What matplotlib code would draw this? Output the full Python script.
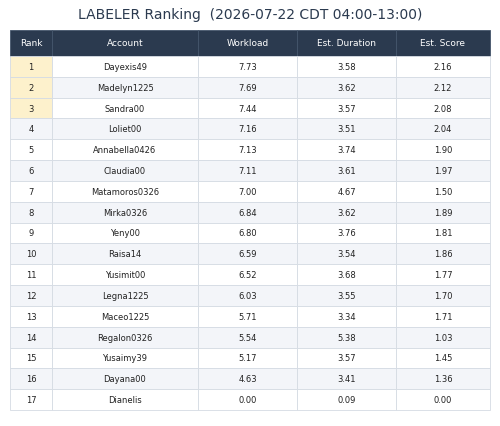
import matplotlib.pyplot as plt
from matplotlib.patches import Rectangle

ranks = list(range(1, 18))
accounts = ["Dayexis49", "Madelyn1225", "Sandra00", "Loliet00", "Annabella0426", "Claudia00",
            "Matamoros0326", "Mirka0326", "Yeny00", "Raisa14", "Yusimit00", "Legna1225",
            "Maceo1225", "Regalon0326", "Yusaimy39", "Dayana00", "Dianelis"]
workload = [7.73, 7.69, 7.44, 7.16, 7.13, 7.11, 7.00, 6.84, 6.80, 6.59, 6.52, 6.03, 5.71, 5.54, 5.17, 4.63, 0.00]
duration = [3.58, 3.62, 3.57, 3.51, 3.74, 3.61, 4.67, 3.62, 3.76, 3.54, 3.68, 3.55, 3.34, 5.38, 3.57, 3.41, 0.09]
score = [2.16, 2.12, 2.08, 2.04, 1.90, 1.97, 1.50, 1.89, 1.81, 1.86, 1.77, 1.70, 1.71, 1.03, 1.45, 1.36, 0.00]
headers = ["Rank", "Account", "Workload", "Est. Duration", "Est. Score"]

W, H = 500, 427
fig = plt.figure(figsize=(W / 100, H / 100), dpi=100)
ax = fig.add_axes([0, 0, 1, 1])
ax.set_xlim(0, W)
ax.set_ylim(H, 0)
ax.axis('off')

cols = [10, 52, 198, 297, 396, 490]
top, head_h = 31, 26
row_h = (411 - (top + head_h)) / len(ranks)
grid = '#d5dbe3'

ax.text(W / 2, 15, "LABELER Ranking  (2026-07-22 CDT 04:00-13:00)", ha='center', va='center',
        fontsize=10, color='#2b3a4f')

for j, h in enumerate(headers):
    ax.add_patch(Rectangle((cols[j], top), cols[j + 1] - cols[j], head_h, fc='#2b3a4f', ec='#44556b', lw=0.6))
    ax.text((cols[j] + cols[j + 1]) / 2, top + head_h / 2, h, ha='center', va='center', fontsize=6.5, color='white')

for i in range(len(ranks)):
    y = top + head_h + i * row_h
    vals = [str(ranks[i]), accounts[i], f"{workload[i]:.2f}", f"{duration[i]:.2f}", f"{score[i]:.2f}"]
    bg = '#ffffff' if i % 2 == 0 else '#f3f5f9'
    for j, v in enumerate(vals):
        fc = '#fdf1cc' if (j == 0 and i < 3) else bg
        ax.add_patch(Rectangle((cols[j], y), cols[j + 1] - cols[j], row_h, fc=fc, ec=grid, lw=0.6))
        ax.text((cols[j] + cols[j + 1]) / 2, y + row_h / 2, v, ha='center', va='center', fontsize=6, color='#222222')

fig.savefig('out.png', dpi=100)
